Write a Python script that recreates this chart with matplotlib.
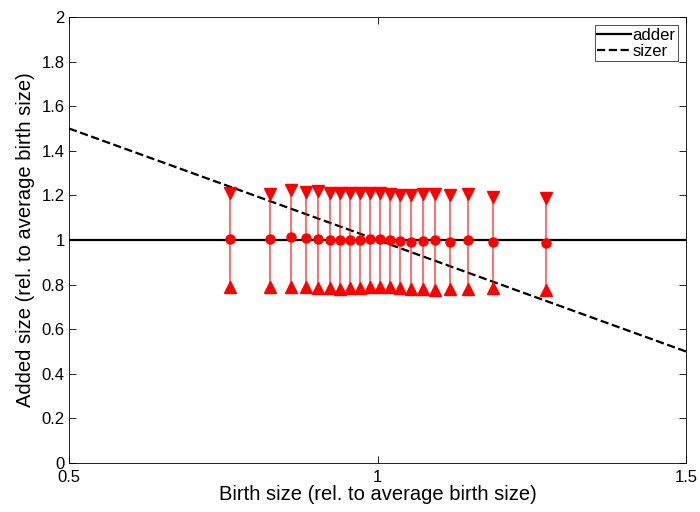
import matplotlib
matplotlib.use("Agg")
import matplotlib.pyplot as plt

plt.rcParams['font.family'] = ['Liberation Sans', 'DejaVu Sans']

birth = [0.761, 0.826, 0.860, 0.884, 0.904, 0.923, 0.939, 0.955, 0.972, 0.988,
         1.004, 1.020, 1.036, 1.054, 1.074, 1.093, 1.117, 1.147, 1.187, 1.273]
added_mean = [1.005, 1.005, 1.012, 1.008, 1.005, 1.0, 1.0, 1.002, 1.0, 1.003,
              1.005, 1.0, 0.995, 0.99, 0.995, 0.998, 0.993, 1.0, 0.993, 0.985]
added_upper = [1.21, 1.205, 1.225, 1.215, 1.22, 1.21, 1.21, 1.21, 1.21, 1.21,
               1.21, 1.205, 1.2, 1.2, 1.205, 1.205, 1.2, 1.205, 1.195, 1.19]
added_lower = [0.79, 0.79, 0.79, 0.79, 0.785, 0.785, 0.78, 0.785, 0.785, 0.79,
               0.79, 0.79, 0.785, 0.78, 0.78, 0.775, 0.78, 0.78, 0.785, 0.775]

adder_x = [0.5, 1.5]
adder_y = [1.0, 1.0]
sizer_x = [0.5, 1.5]
sizer_y = [1.5, 0.5]

fig = plt.figure(figsize=(7.0, 5.12), dpi=100)
ax = fig.add_axes([0.0986, 0.0957, 0.8814, 0.8711])

ax.plot(adder_x, adder_y, '-', color='black', lw=1.6, label='adder', zorder=2)
ax.plot(sizer_x, sizer_y, '--', color='black', lw=1.6, label='sizer', zorder=2)

ax.vlines(birth, added_lower, added_upper, colors='red', alpha=0.55, lw=1.5, zorder=3)
ax.plot(birth, added_mean, 'o', color='red', ms=6.5, zorder=4)
ax.plot(birth, added_upper, 'v', color='red', ms=8, zorder=4)
ax.plot(birth, added_lower, '^', color='red', ms=8, zorder=4)

ax.set_xlim(0.5, 1.5)
ax.set_ylim(0, 2)
ax.set_xticks([0.5, 1, 1.5])
ax.set_xticklabels(['0.5', '1', '1.5'])
ax.set_yticks([0, 0.2, 0.4, 0.6, 0.8, 1, 1.2, 1.4, 1.6, 1.8, 2])
ax.set_yticklabels(['0', '0.2', '0.4', '0.6', '0.8', '1', '1.2', '1.4', '1.6', '1.8', '2'])
ax.tick_params(direction='in', top=True, right=True, labelsize=12, length=5, width=0.6)
ax.tick_params(axis='x', pad=5)
ax.tick_params(axis='y', pad=3)
for s in ax.spines.values():
    s.set_linewidth(0.6)

ax.set_xlabel('Birth size (rel. to average birth size)', fontsize=14.5, labelpad=0)
ax.set_ylabel('Added size (rel. to average birth size)', fontsize=14.5, labelpad=5)

leg = ax.legend(loc='upper right', fontsize=12, frameon=True, fancybox=False,
                edgecolor='black', handlelength=2.0, handletextpad=0.1,
                borderpad=0.15, labelspacing=0.05, borderaxespad=0.5)
leg.get_frame().set_linewidth(0.6)

fig.savefig('out.png', dpi=100)
